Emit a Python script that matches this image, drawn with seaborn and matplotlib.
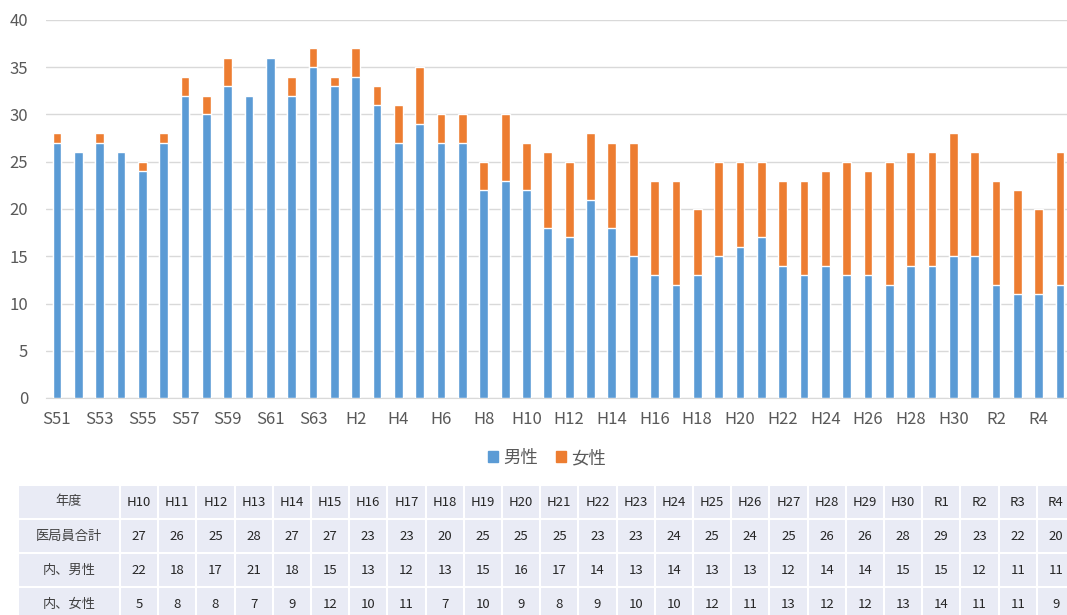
import numpy as np
import pandas as pd
import seaborn as sns
import matplotlib.pyplot as plt
from matplotlib.patches import Patch

# 年度 (S51 .. R5)
years = (["S%d" % y for y in range(51, 64)]
         + ["H%d" % y for y in range(1, 31)]
         + ["R%d" % y for y in range(1, 6)])

men = [27, 26, 27, 26, 24, 27, 32, 30, 33, 32, 36, 32, 35,
       33, 34, 31, 27, 29, 27, 27, 22, 23, 22,
       18, 17, 21, 18, 15, 13, 12, 13, 15, 16,
       17, 14, 13, 14, 13, 13, 12, 14, 14, 15,
       15, 12, 11, 11, 12]
women = [1, 0, 1, 0, 1, 1, 2, 2, 3, 0, 0, 2, 2,
         1, 3, 2, 4, 6, 3, 3, 3, 7, 5,
         8, 8, 7, 9, 12, 10, 11, 7, 10, 9,
         8, 9, 10, 10, 12, 11, 13, 12, 12, 13,
         11, 11, 11, 9, 14]

# table under the chart
tbl_years = ["H%d" % y for y in range(10, 31)] + ["R1", "R2", "R3", "R4"]
tbl_total = [27, 26, 25, 28, 27, 27, 23, 23, 20, 25, 25, 25, 23, 23, 24,
             25, 24, 25, 26, 26, 28, 29, 23, 22, 20]
tbl_men = [22, 18, 17, 21, 18, 15, 13, 12, 13, 15, 16, 17, 14, 13, 14,
           13, 13, 12, 14, 14, 15, 15, 12, 11, 11]
tbl_women = [5, 8, 8, 7, 9, 12, 10, 11, 7, 10, 9, 8, 9, 10, 10,
             12, 11, 13, 12, 12, 13, 14, 11, 11, 9]
row_labels = ["年度", "医局員合計", "内、男性", "内、女性"]

blue = "#5b9bd5"
orange = "#ed7d31"
grey = "#595959"

sns.set_style("white")
plt.rcParams['font.family'] = ['Noto Sans CJK JP', 'DejaVu Sans']

df = pd.DataFrame({"year": years, "men": men, "women": women})
df["total"] = df["men"] + df["women"]

fig = plt.figure(figsize=(10.67, 6.15), dpi=100)
W, H = 1067, 615
ax = fig.add_axes([46.3 / W, 1 - 398 / H, 1024.4 / W, 378 / H])

sns.barplot(data=df, x="year", y="total", color=orange, saturation=1,
            width=0.41, ax=ax, zorder=2)
sns.barplot(data=df, x="year", y="men", color=blue, saturation=1,
            width=0.41, ax=ax, zorder=3)

ax.set_ylim(0, 40)
ax.set_yticks(range(0, 41, 5))
ax.set_xlim(-0.5, len(years) - 0.5)
ax.set_xticks(range(0, len(years), 2))
ax.set_xticklabels(years[::2])
ax.set_xlabel("")
ax.set_ylabel("")
ax.grid(axis="y", color="#d9d9d9", linewidth=1, zorder=0)
for s in ["top", "right", "left"]:
    ax.spines[s].set_visible(False)
ax.spines["bottom"].set_color("#d9d9d9")
ax.tick_params(axis="both", length=0, labelsize=12, colors=grey)
ax.tick_params(axis="y", pad=13)
ax.tick_params(axis="x", pad=9)

handles = [Patch(color=blue, label="男性"), Patch(color=orange, label="女性")]
fig.legend(handles=handles, loc="center", bbox_to_anchor=(547 / W, 1 - 458 / H),
           ncol=2, frameon=False, fontsize=12.5, labelcolor=grey,
           handlelength=0.6, handleheight=0.6, handletextpad=0.3,
           columnspacing=1.0)

# data table
cells = [[row_labels[0]] + tbl_years,
         [row_labels[1]] + [str(v) for v in tbl_total],
         [row_labels[2]] + [str(v) for v in tbl_men],
         [row_labels[3]] + [str(v) for v in tbl_women]]
col_w = [102] + [38.2] * len(tbl_years)
tot_w = sum(col_w)
tax = fig.add_axes([18 / W, 1 - 621 / H, tot_w / W, 136 / H])
tax.axis("off")
tbl = tax.table(cellText=cells, colWidths=[c / tot_w for c in col_w],
                cellLoc="center", bbox=[0, 0, 1, 1])
tbl.auto_set_font_size(False)
for (r, c), cell in tbl.get_celld().items():
    cell.set_facecolor("#e9ebf5")
    cell.set_edgecolor("white")
    cell.set_linewidth(1.5)
    txt = cell.get_text()
    if c == 0:
        txt.set_fontsize(9.5)
        txt.set_color("#404040")
    else:
        txt.set_fontsize(9.5)
        txt.set_color("#262626")

fig.savefig("out.png", dpi=100)
